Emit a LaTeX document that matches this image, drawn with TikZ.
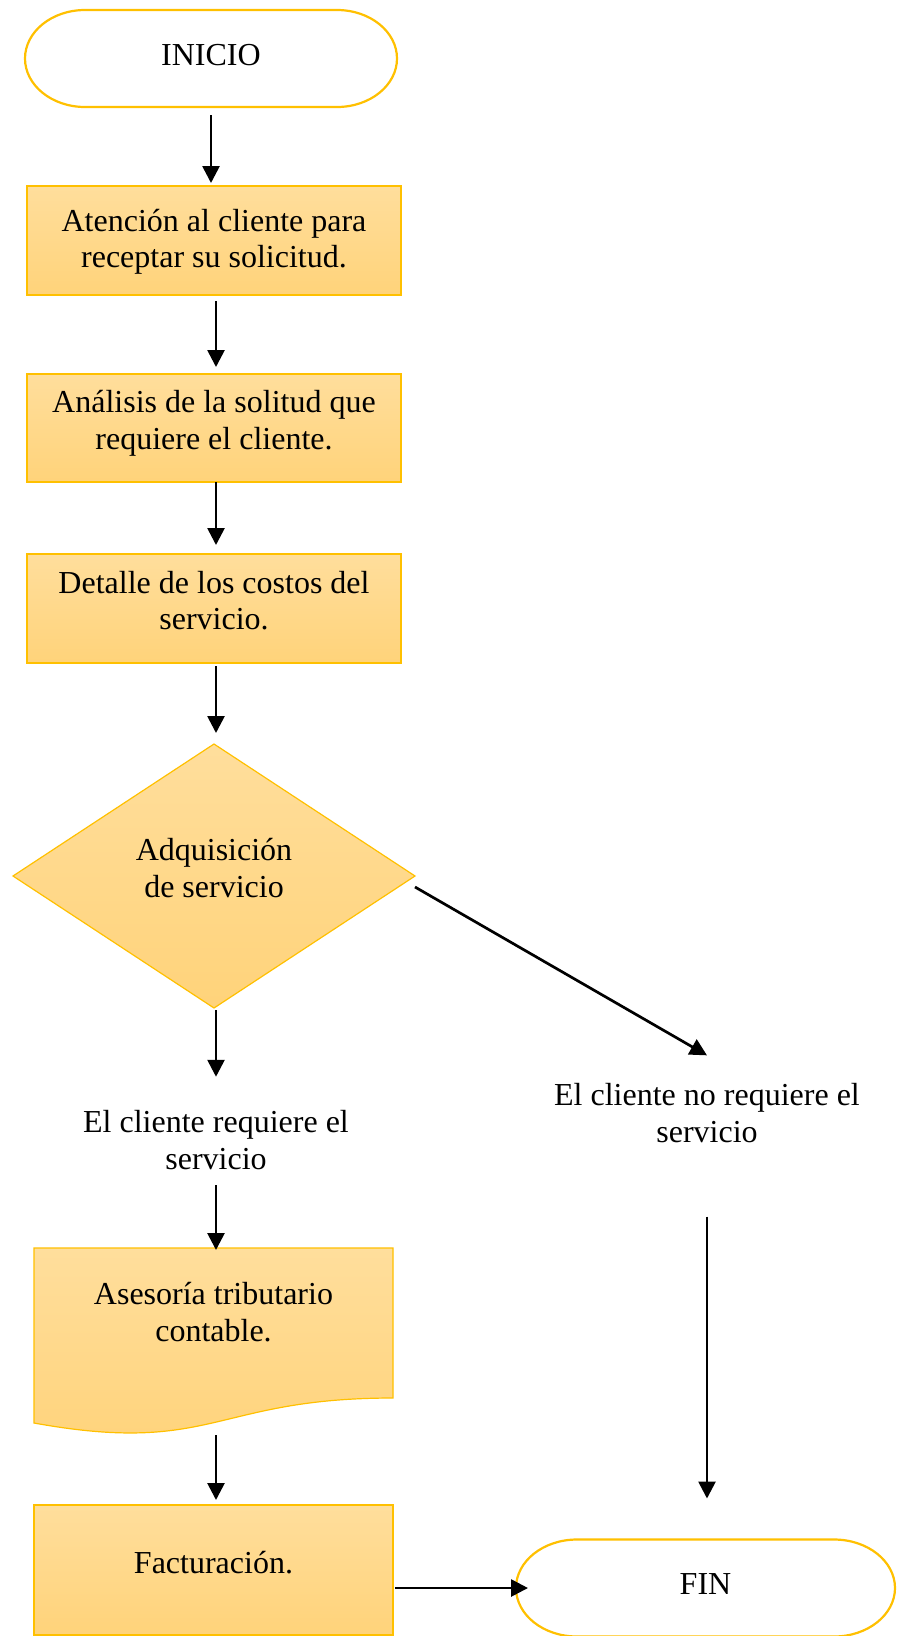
\documentclass[tikz,border=0pt]{standalone}
\usepackage{fontspec}
\setmainfont{Liberation Serif}
\usetikzlibrary{shapes.geometric,arrows.meta,calc}
\definecolor{gold}{RGB}{255,192,0}
\definecolor{gtop}{RGB}{255,222,156}
\definecolor{gbot}{RGB}{255,211,122}
\newcommand\myftop{\rule{0pt}{30pt}}
\newcommand\myfbot{\rule[-24pt]{0pt}{24pt}}
\newcommand\myfbotb{\rule[-12pt]{0pt}{12pt}}
\newcommand\mytdp{\rule[-8pt]{0pt}{8pt}}
\newcommand\myterm[2]{%
  \draw[gold, line width=2.2pt]
    ([xshift=#2]#1.north west) -- ([xshift=-#2]#1.north east)
    arc[start angle=90, end angle=-90, x radius=#2, y radius=48.5pt]
    -- ([xshift=#2]#1.south west)
    arc[start angle=270, end angle=90, x radius=#2, y radius=48.5pt] -- cycle;}
\tikzset{
  txt/.style={font=\fontsize{32pt}{36.8pt}\selectfont, align=center, inner sep=0pt, outer sep=0pt, text=black},
  termnode/.style={txt, minimum width=372pt, minimum height=97pt},
  shadefill/.style={draw=gold, line width=1.2pt, top color=gtop, bottom color=gbot},
  procbox/.style={txt, shadefill, rectangle, minimum width=374pt, minimum height=109pt},
  factbox/.style={txt, shadefill, rectangle, minimum width=359pt, minimum height=130pt},
  decision/.style={txt, shadefill, diamond, aspect=1.5227, minimum width=402pt, minimum height=264pt},
  arr/.style={line width=2.7pt, -{Triangle[length=17pt,width=17pt]}},
}
\begin{document}
\begin{tikzpicture}[x=1pt, y=-1pt]
\path[fill=white, use as bounding box] (0,0) rectangle (903,1636);

% terminals
\node[termnode] (inicio) at (211,58.5) {INICIO\mytdp};
\myterm{inicio}{60pt}
\node[termnode, minimum width=379pt] (fin) at (705.5,1588) {FIN\mytdp};
\myterm{fin}{61pt}

% process boxes
\node[procbox] (box1) at (214,240.5) {\myftop Atención al cliente para\\receptar su solicitud.\myfbotb};
\node[procbox, minimum height=108pt] (box2) at (214,428) {\myftop Análisis de la solitud que\\requiere el cliente.\myfbot};
\node[procbox] (box3) at (214,608.5) {\myftop Detalle de los costos del\\servicio.\myfbot};

% decision
\node[decision] (dia) at (214,876) {\myftop Adquisición\\de servicio\myfbot};

% free labels
\node[txt] (yes1) at (216,1140) {El cliente requiere el\\servicio};
\node[txt] (no) at (707,1113) {El cliente no requiere el\\servicio};

% document shape
\path[shadefill] (34,1248) -- (393,1248) -- (393,1398)
  .. controls (213.5,1398) and (213.5,1455.5) .. (34,1423) -- cycle;
\node[txt, minimum width=359pt, minimum height=144pt] (doc) at (213.5,1320) {\myftop Asesoría tributario\\contable.\myfbot};

% facturacion
\node[factbox] (fact) at (213.5,1570) {\myftop Facturación.\myfbot};

% connectors
\draw[arr, shorten <=8pt, shorten >=3pt] (inicio.south) -- (inicio.south |- box1.north);
\draw[arr, shorten <=6pt, shorten >=7pt] ([xshift=2pt]box1.south) -- ([xshift=2pt]box2.north);
\draw[arr, shorten >=9pt] ([xshift=2pt]box2.south) -- ([xshift=2pt]box3.north);
\draw[arr, shorten <=3pt, shorten >=11pt] ([xshift=2pt]box3.south) -- ([xshift=2pt]dia.north);
\draw[arr, shorten <=2pt, shorten >=33.6pt] ([xshift=2pt]dia.south) -- (yes1.north);
\draw[arr] ([yshift=-11pt]dia.east) -- ([yshift=28pt]no.north);
\draw[arr, shorten <=15.6pt, shorten >=-2pt] (yes1.south) -- (yes1.south |- doc.north);
\draw[arr, shorten <=43pt, shorten >=5pt] ([xshift=2.5pt]doc.south) -- ([xshift=2.5pt]fact.north);
\draw[arr, shorten <=74pt, shorten >=41pt] (no.south) -- (no.south |- fin.north);
\draw[arr, shorten <=2pt, shorten >=-12pt] (fact.east |- fin.west) -- (fin.west);
\end{tikzpicture}
\end{document}
